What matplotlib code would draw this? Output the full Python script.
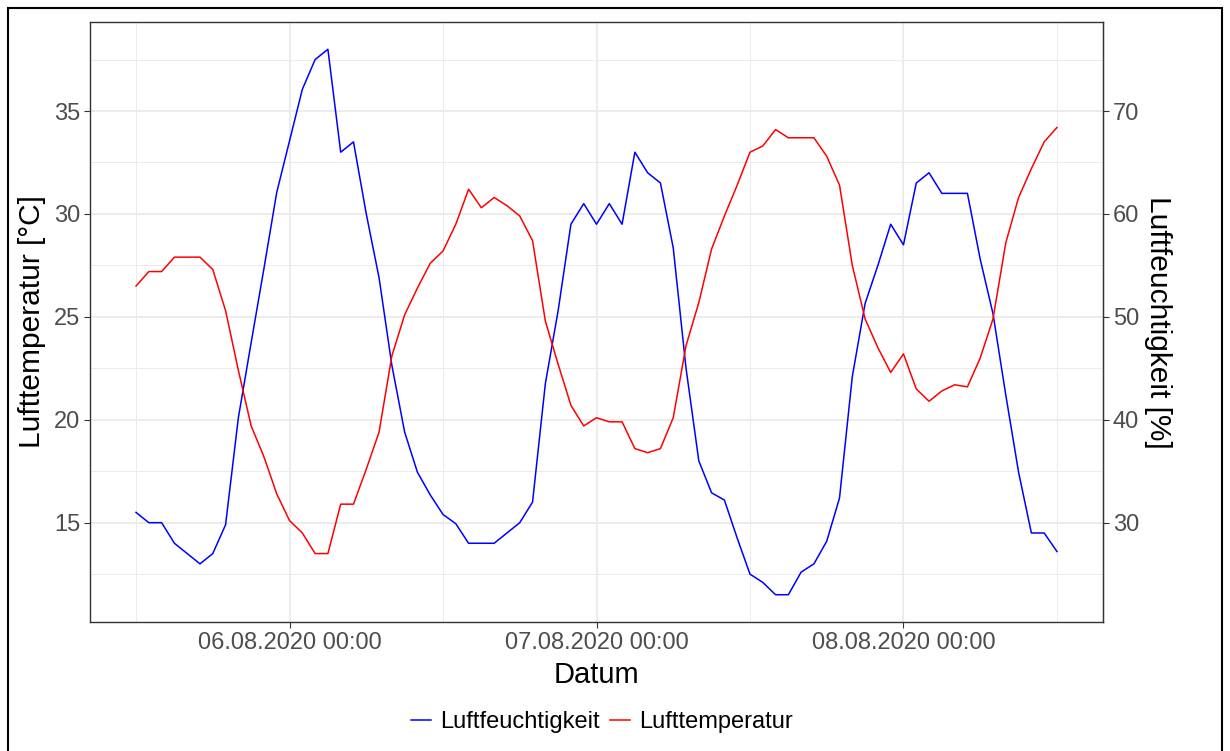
import numpy as np
import pandas as pd
import matplotlib
matplotlib.use("Agg")
import matplotlib.pyplot as plt
import matplotlib.dates as mdates
from matplotlib.patches import Rectangle

plt.rcParams['font.family'] = ['Liberation Sans', 'DejaVu Sans']

# hourly values, 05.08.2020 12:00 .. 08.08.2020 12:00
zeit = pd.date_range("2020-08-05 12:00", periods=73, freq="h")

temperatur = [26.5, 27.2, 27.2, 27.9, 27.9, 27.9, 27.3, 25.3, 22.4, 19.7,
              18.2, 16.4, 15.1, 14.5, 13.5, 13.5, 15.9, 15.9, 17.6, 19.4,
              23.1, 25.1, 26.4, 27.6, 28.2, 29.5, 31.2, 30.3, 30.8, 30.4,
              29.9, 28.7, 24.8, 22.7, 20.7, 19.7, 20.1, 19.9, 19.9, 18.6,
              18.4, 18.6, 20.1, 23.6, 25.7, 28.3, 29.9, 31.4, 33.0, 33.3,
              34.1, 33.7, 33.7, 33.7, 32.8, 31.4, 27.5, 24.9, 23.5, 22.3,
              23.2, 21.5, 20.9, 21.4, 21.7, 21.6, 23.0, 24.9, 28.6, 30.8,
              32.2, 33.5, 34.2]

feuchtigkeit = [31.0, 30.0, 30.0, 28.0, 27.0, 26.0, 27.0, 29.8, 40.2, 47.5,
                54.7, 62.1, 67.1, 72.1, 75.0, 76.0, 66.0, 67.0, 60.0, 53.8,
                45.3, 38.8, 34.9, 32.7, 30.8, 29.9, 28.0, 28.0, 28.0, 29.0,
                30.0, 32.0, 43.5, 50.6, 59.0, 61.0, 59.0, 61.0, 59.0, 66.0,
                64.0, 63.0, 56.7, 45.0, 36.0, 32.9, 32.2, 28.5, 25.0, 24.2,
                23.0, 23.0, 25.2, 26.0, 28.2, 32.4, 44.2, 51.3, 55.0, 59.0,
                57.0, 63.0, 64.0, 62.0, 62.0, 62.0, 55.6, 50.3, 42.4, 34.9,
                29.0, 29.0, 27.2]

skala = 2  # Luftfeuchtigkeit = 2 * Lufttemperatur-Achse

fig = plt.figure(figsize=(12.3, 7.51), dpi=100)
ax = fig.add_axes([90/1230, 1-622/751, (1103-90)/1230, 600/751])

ax.plot(zeit, np.array(feuchtigkeit)/skala, color="#0000FF", lw=1.1, label="Luftfeuchtigkeit")
ax.plot(zeit, temperatur, color="#FF0000", lw=1.1, label="Lufttemperatur")

# ggplot-like expansion
lo = min(min(temperatur), min(feuchtigkeit)/skala)
hi = max(max(temperatur), max(feuchtigkeit)/skala)
pad = (hi - lo)*0.05
ax.set_ylim(lo - pad, hi + pad)
xpad = (zeit[-1] - zeit[0])*0.05
ax.set_xlim(zeit[0] - xpad, zeit[-1] + xpad)

ax.set_yticks([15, 20, 25, 30, 35])
ax.set_yticks([12.5, 17.5, 22.5, 27.5, 32.5, 37.5], minor=True)
ax.xaxis.set_major_locator(mdates.HourLocator(byhour=[0]))
ax.xaxis.set_minor_locator(mdates.HourLocator(byhour=[12]))
ax.xaxis.set_major_formatter(mdates.DateFormatter("%d.%m.%Y %H:%M"))

ax.grid(which="major", color="#EBEBEB", lw=1.3)
ax.grid(which="minor", color="#EBEBEB", lw=0.7)
ax.set_axisbelow(True)
for s in ax.spines.values():
    s.set_color("#333333")
    s.set_linewidth(1.0)
ax.tick_params(which="major", length=4, color="#333333", labelsize=17, labelcolor="#4D4D4D", pad=3)
ax.tick_params(which="minor", length=0)

ax.set_xlabel("Datum", fontsize=21, labelpad=5)
ax.set_ylabel("Lufttemperatur [°C]", fontsize=21.5, labelpad=6)

sec = ax.secondary_yaxis("right", functions=(lambda v: v*skala, lambda v: v/skala))
sec.set_yticks([30, 40, 50, 60, 70])
sec.tick_params(length=4, color="#333333", labelsize=17, labelcolor="#4D4D4D", pad=3)
sec.spines["right"].set_color("#333333")
sec.set_ylabel("Luftfeuchtigkeit [%]", fontsize=21.5, rotation=270, labelpad=24)

fig.legend(loc="center", bbox_to_anchor=(602/1230, 1-722/751), ncol=2, frameon=False,
           fontsize=17, handlelength=0.85, handletextpad=0.4, columnspacing=0.4)

fig.patches.append(Rectangle((8/1230, -0.01), 1214/1230, 1-8/751+0.01, transform=fig.transFigure,
                             fill=False, edgecolor="black", lw=1.5))

fig.savefig("out.png", dpi=100)
